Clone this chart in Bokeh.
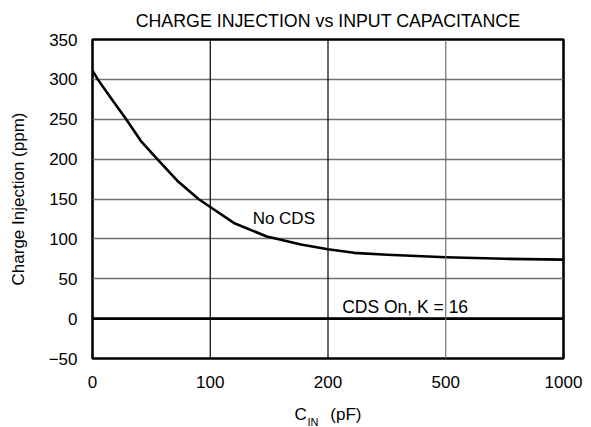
import numpy as np
from bokeh.plotting import figure
from bokeh.models import FixedTicker, Label, Span, ColumnDataSource
from bokeh.embed import file_html
from bokeh.resources import INLINE

# ---- data ----
x_tick_values = [0, 100, 200, 500, 1000]
x_tick_labels = ["0", "100", "200", "500", "1000"]
y_ticks = [-50, 0, 50, 100, 150, 200, 250, 300, 350]

no_cds_cin = [0, 4.5, 15, 28.6, 41, 55, 72, 90, 100, 120, 148, 160, 177, 200, 266, 351, 500, 748, 1000]
no_cds_q = [311, 300, 278, 250, 223, 200, 173, 150, 140, 120, 103, 99, 93, 87, 82.5, 80, 77, 75, 74]

cds_cin = [0, 1000]
cds_q = [0, 0]

FONT = "Liberation Sans"
FS = "17px"

positions = list(range(len(x_tick_values)))


def to_pos(v):
    return np.interp(v, x_tick_values, positions)


W, H = 591, 427
L, R, T, B = 92, 28, 39, 69

p = figure(width=W, height=H, output_backend="svg", toolbar_location=None,
           x_range=(0, positions[-1]), y_range=(-50, 350),
           min_border_left=L, min_border_right=R, min_border_top=T, min_border_bottom=B)

p.title.text = "CHARGE INJECTION vs INPUT CAPACITANCE"
p.title.align = "center"
p.title.text_font = FONT
p.title.text_font_size = "17.8px"
p.title.text_font_style = "normal"
p.title.text_color = "black"
p.title.standoff = 17

p.outline_line_color = "black"
p.outline_line_width = 2.6
p.outline_line_alpha = 1
p.background_fill_color = "white"
p.border_fill_color = "white"

# axes
p.xaxis.ticker = FixedTicker(ticks=positions)
p.xaxis.major_label_overrides = {i: s for i, s in zip(positions, x_tick_labels)}
p.yaxis.ticker = FixedTicker(ticks=y_ticks)
p.yaxis.major_label_overrides = {-50: "\u221250"}
for ax in (p.xaxis[0], p.yaxis[0]):
    ax.axis_line_color = None
    ax.major_tick_line_color = None
    ax.minor_tick_line_color = None
    ax.major_tick_out = 0
    ax.major_tick_in = 0
    ax.major_label_text_font = FONT
    ax.major_label_text_font_size = FS
    ax.major_label_text_color = "black"
    ax.axis_label_text_font = FONT
    ax.axis_label_text_font_size = FS
    ax.axis_label_text_font_style = "normal"
    ax.axis_label_text_color = "black"
p.xaxis.major_label_standoff = 17
p.yaxis.major_label_standoff = 15
p.yaxis.axis_label = "Charge Injection (ppm)"
p.yaxis.axis_label_standoff = 18
# "C" and "(pF)" with room left for the subscript "IN"
p.xaxis.axis_label = "C\u00a0\u00a0\u00a0\u00a0\u00a0(pF)"
p.xaxis.axis_label_standoff = 14

# grid
p.xgrid.grid_line_color = None
p.ygrid.ticker = FixedTicker(ticks=y_ticks)
p.ygrid.grid_line_color = "#707070"
p.ygrid.grid_line_width = 1.3
for pos, col in zip(positions[1:-1], ["black", "black", "#707070"]):
    p.add_layout(Span(location=pos, dimension="height", line_color=col, line_width=1.2))

# curves
src1 = ColumnDataSource(dict(x=to_pos(no_cds_cin), y=no_cds_q))
p.line("x", "y", source=src1, line_color="black", line_width=2.6, line_join="round")
src2 = ColumnDataSource(dict(x=to_pos(cds_cin), y=cds_q))
p.line("x", "y", source=src2, line_color="black", line_width=2.6)

# in-plot labels
p.add_layout(Label(x=to_pos(136), y=126, text="No CDS", text_font=FONT, text_font_size=FS,
                   text_baseline="middle", text_color="black"))
p.add_layout(Label(x=to_pos(236), y=15, text="CDS On, K = 16", text_font=FONT,
                   text_font_size="17.5px", text_baseline="middle", text_color="black"))

# subscript "IN" (canvas coordinates), held in the roomy right panel
p.add_layout(Label(x=307, y=421, x_units="canvas", y_units="canvas", text="IN",
                   text_font=FONT, text_font_size="11px", text_baseline="middle",
                   text_color="black"), "right")

open("out.html", "w").write(file_html(p, INLINE))
